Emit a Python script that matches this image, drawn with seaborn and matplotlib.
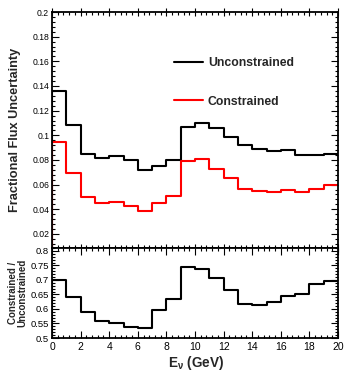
import numpy as np
import pandas as pd
import matplotlib
matplotlib.use("Agg")
import matplotlib.pyplot as plt
from matplotlib.ticker import MultipleLocator, FuncFormatter
import seaborn as sns

# ---- data ----
bin_edges = list(range(0, 21))
unconstrained = [0.136, 0.108, 0.0848, 0.0815, 0.0832, 0.0798, 0.0718, 0.0752, 0.0798, 0.107,
                 0.110, 0.106, 0.0986, 0.0919, 0.0892, 0.0870, 0.0878, 0.0843, 0.0843, 0.0848]
constrained = [0.0946, 0.0692, 0.0500, 0.0455, 0.0460, 0.0428, 0.0385, 0.0450, 0.0508, 0.0789,
               0.0805, 0.0730, 0.0652, 0.0562, 0.0548, 0.0538, 0.0560, 0.0542, 0.0568, 0.0595]
ratio = [0.700, 0.641, 0.589, 0.560, 0.552, 0.538, 0.535, 0.598, 0.635, 0.745,
         0.738, 0.705, 0.667, 0.618, 0.615, 0.625, 0.643, 0.650, 0.686, 0.698]
series_labels = ["Unconstrained", "Constrained"]
series_colors = ["black", "#ff0000"]

sns.set_theme(style="white")
plt.rcParams["font.family"] = ["Liberation Sans", "DejaVu Sans"]
plt.rcParams["mathtext.fontset"] = "custom"
plt.rcParams["mathtext.rm"] = "Liberation Sans:bold"
plt.rcParams["mathtext.it"] = "Liberation Sans:bold"
plt.rcParams["mathtext.bf"] = "Liberation Sans:bold"


def step_frame(values, baseline):
    xs = [bin_edges[0]] + bin_edges
    ys = [baseline] + list(values) + [values[-1]]
    return pd.DataFrame({"x": xs, "y": ys})


fig = plt.figure(figsize=(3.44, 3.72), dpi=100)
ax1 = fig.add_axes([52 / 344, 1 - 248 / 372, 286 / 344, 236 / 372])
ax2 = fig.add_axes([52 / 344, 1 - 338 / 372, 286 / 344, 90 / 372])

for vals, lab, col in zip([unconstrained, constrained], series_labels, series_colors):
    sns.lineplot(data=step_frame(vals, 0.0), x="x", y="y", ax=ax1, color=col, lw=1.5,
                 drawstyle="steps-post", estimator=None, sort=False, label=lab)

sns.lineplot(data=step_frame(ratio, 0.0), x="x", y="y", ax=ax2, color="black", lw=1.5,
             drawstyle="steps-post", estimator=None, sort=False, legend=False)

fmt = FuncFormatter(lambda v, p: ("%g" % round(v, 4)))

ax1.set_xlim(0, 20)
ax1.set_ylim(0.0086, 0.2)
ax2.set_xlim(0, 20)
ax2.set_ylim(0.5, 0.81)

for ax in (ax1, ax2):
    ax.xaxis.set_major_locator(MultipleLocator(2))
    ax.xaxis.set_minor_locator(MultipleLocator(0.4))
    ax.tick_params(which="both", direction="in", top=True, right=True, bottom=True, left=True,
                   width=0.8, colors="black", pad=2)
    ax.tick_params(which="major", length=5)
    ax.tick_params(which="minor", length=2.5)
    ax.yaxis.set_major_formatter(fmt)
    for s in ax.spines.values():
        s.set_linewidth(1.3)
        s.set_color("black")
    ax.set_xlabel("")
    ax.set_ylabel("")

ax1.yaxis.set_major_locator(MultipleLocator(0.02))
ax1.yaxis.set_minor_locator(MultipleLocator(0.004))
ax1.tick_params(axis="y", labelsize=6.2)
ax1.tick_params(axis="x", labelbottom=False)
ax1.tick_params(axis="x", which="major", direction="inout", length=6)

ax2.yaxis.set_major_locator(MultipleLocator(0.05))
ax2.yaxis.set_minor_locator(MultipleLocator(0.01))
ax2.tick_params(axis="y", labelsize=6.8)
ax2.tick_params(axis="x", labelsize=7.5, pad=3)
ax2.xaxis.set_major_formatter(FuncFormatter(lambda v, p: "%d" % v))

ax1.set_ylabel("Fractional Flux Uncertainty", fontsize=9.2, fontweight="bold")
ax1.yaxis.set_label_coords(-0.11, 0.5)
ax2.set_ylabel("Constrained /\nUnconstrained", fontsize=7.0, fontweight="bold", linespacing=0.95)
ax2.yaxis.set_label_coords(-0.087, 0.5)
ax2.set_xlabel(r"E$_{\nu}$ (GeV)", fontsize=9.8, fontweight="bold")
ax2.xaxis.set_label_coords(0.503, -0.175)

leg = ax1.legend(loc="upper left", bbox_to_anchor=(0.408, 0.828), frameon=False,
                 fontsize=8.8, handlelength=2.4, handletextpad=0.4, labelspacing=2.15,
                 borderaxespad=0)
for t in leg.get_texts():
    t.set_fontweight("bold")
for h in leg.get_lines():
    h.set_linewidth(1.5)

fig.savefig("out.png", dpi=100)
